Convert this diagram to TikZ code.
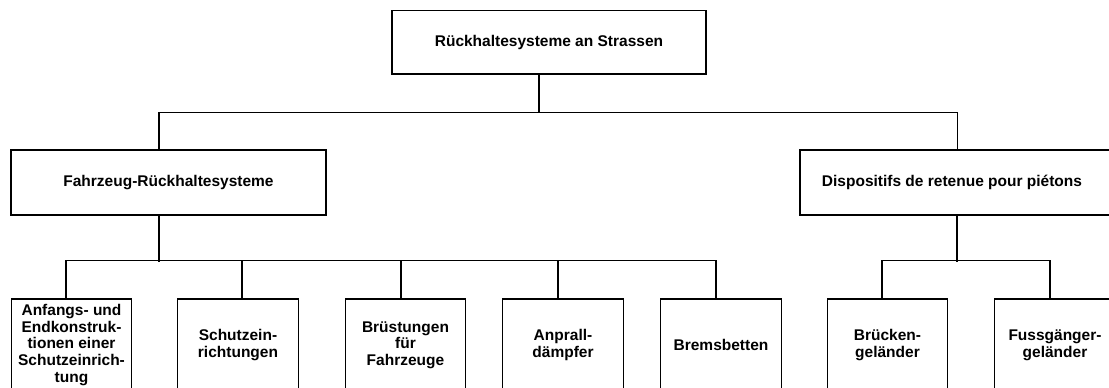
\documentclass[tikz,border=0pt]{standalone}
\usepackage{fontspec}
\setmainfont{Liberation Sans}
\begin{document}
\begin{tikzpicture}[x=1pt,y=-1pt,
  box/.style={draw, line width=1.2pt, align=center, inner sep=0pt,
    font=\bfseries\fontsize{15.5}{16.7}\selectfont},
  topbox/.style={box, minimum width=314pt, minimum height=63.5pt},
  midbox/.style={box, minimum width=315pt, minimum height=65pt},
  leafbox/.style={box, minimum width=120.5pt, minimum height=92pt},
  link/.style={line width=1.2pt}]
\useasboundingbox (0,0) rectangle (1109,388);
\clip (0,0) rectangle (1109,388);

\node[topbox] (top) at (549,42.3) {Rückhaltesysteme an Strassen};
\node[midbox] (L) at (168.5,182.5) {Fahrzeug-Rückhaltesysteme};
\node[midbox] (R) at (957.5,182.5) {\hspace*{-11pt}Dispositifs de retenue pour piétons};

\node[leafbox] (b1) at (71.5,345) {Anfangs- und\\Endkonstruk-\\tionen einer\\Schutzeinrich-\\tung};
\node[leafbox] (b2) at (238,345) {Schutzein-\\richtungen};
\node[leafbox] (b3) at (405.5,345) {Brüstungen\\für\\Fahrzeuge};
\node[leafbox] (b4) at (563,345) {Anprall-\\dämpfer};
\node[leafbox] (b5) at (721,345) {Bremsbetten};
\node[leafbox] (b6) at (887.5,345) {Brücken-\\geländer};
\node[leafbox] (b7) at (1055,345) {Fussgänger-\\geländer};

% top level
\draw[link] ([xshift=-10pt]top.south) -- ++(0,38.7);
\draw[link] ([xshift=-9.5pt]L.north) -- ++(0,-37) -| ([xshift=0pt]R.north);

% left branch
\draw[link] ([xshift=-9.5pt]L.south) -- ++(0,46);
\draw[link] ([xshift=-5.5pt]b1.north) -- ++(0,-38) -| ([xshift=-5pt]b5.north);
\draw[link] ([xshift=4pt]b2.north) -- ++(0,-38);
\draw[link] ([xshift=-4.5pt]b3.north) -- ++(0,-38);
\draw[link] ([xshift=-5pt]b4.north) -- ++(0,-38);

% right branch
\draw[link] ([xshift=-0.5pt]R.south) -- ++(0,46);
\draw[link] ([xshift=-5.5pt]b6.north) -- ++(0,-38) -| ([xshift=-5pt]b7.north);
\end{tikzpicture}
\end{document}
